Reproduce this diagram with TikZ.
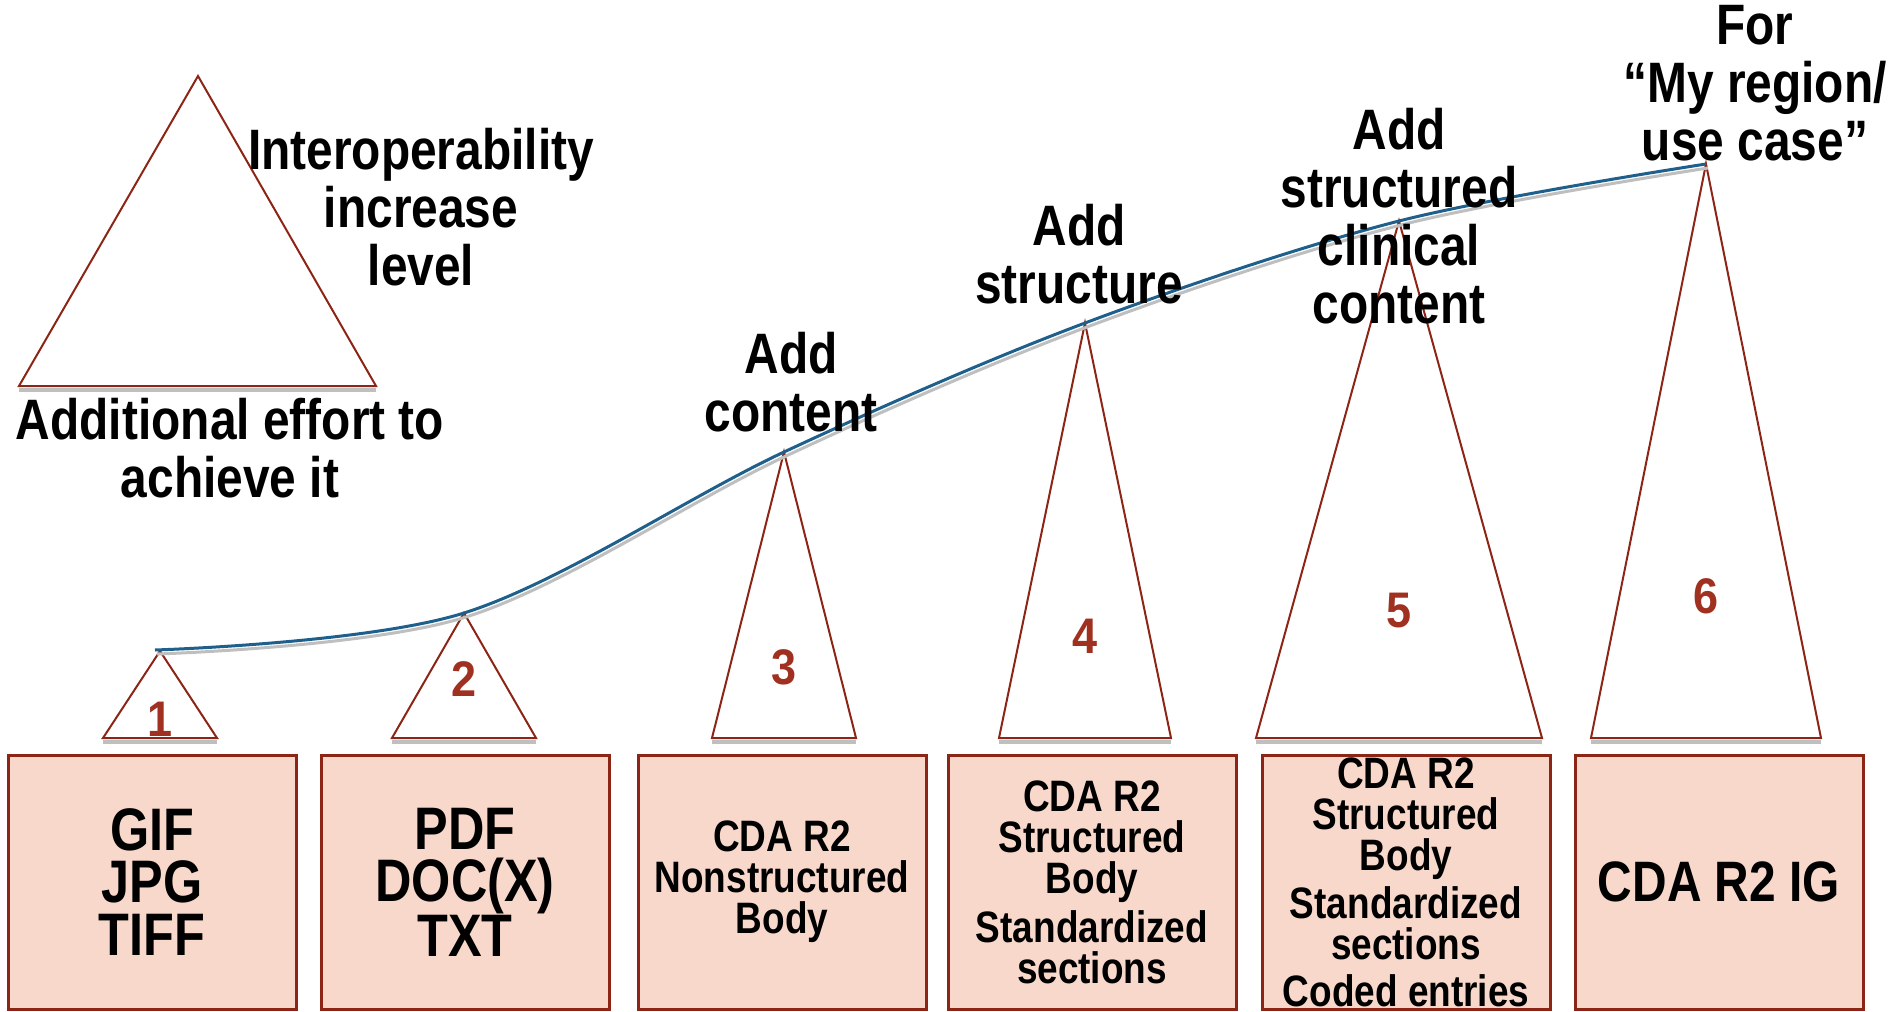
\documentclass[tikz,border=0pt]{standalone}
\usepackage{fontspec}
\setmainfont{Liberation Sans}[FakeStretch=0.84]
\newfontfamily\numfont{Liberation Sans}[FakeStretch=0.9]
\definecolor{boxfill}{HTML}{F8D8CB}
\definecolor{boxline}{HTML}{8C2516}
\definecolor{numred}{HTML}{A0301F}
\definecolor{curveblue}{HTML}{1E5F8C}
\definecolor{shadowgray}{HTML}{BFBFBF}
\begin{document}
\begin{tikzpicture}[x=1pt,y=-1pt,
  fmtbox/.style={draw=boxline, line width=3pt, fill=boxfill, minimum width=288pt, minimum height=254pt, inner sep=0pt, align=center},
  bigtxt/.style={font=\bfseries\fontsize{60}{52.5}\selectfont},
  smalltxt/.style={font=\bfseries\fontsize{44}{41}\selectfont},
  lbl/.style={font=\bfseries\fontsize{57}{58}\selectfont, align=center, inner sep=0pt},
  numlbl/.style={font=\numfont\bfseries\fontsize{50}{50}\selectfont, text=numred, inner sep=0pt},
  tri/.style={draw=boxline, line width=2pt, line join=miter},
  baseshadow/.style={draw=shadowgray, line width=4pt}
]
\useasboundingbox (0,0) rectangle (1891,1012);

% boxes
\node[fmtbox, bigtxt] (b1) at (152,882) {GIF\\JPG\\TIFF};
\node[fmtbox, bigtxt] (b2) at (465,882) {PDF\\DOC(X)\\TXT};
\node[fmtbox, smalltxt] (b3) at (782,882) {\rule{0pt}{8pt}CDA R2\\Nonstructured\\Body};
\node[fmtbox, smalltxt] (b4) at (1092,882) {CDA R2\\Structured\\Body\\[7pt]Standardized\\sections};
\node[fmtbox, smalltxt] (b5) at (1406,882) {CDA R2\\Structured\\Body\\[6pt]Standardized\\sections\\[6pt]Coded entries};
\node[fmtbox, font=\bfseries\fontsize{57}{58}\selectfont] (b6) at (1719,882) {CDA R2 IG};

% legend triangle
\coordinate (la) at (198,76);
\coordinate (ll) at (19,386);
\coordinate (lr) at (376,386);
\draw[baseshadow] ([yshift=-4pt]ll) -- ([yshift=-4pt]lr);
\draw[tri] (la) -- (ll) -- (lr) -- cycle;
\node[lbl] (interop) at (421,207) {Interoperability\\increase\\level};
\node[lbl] (effort) at (230,448) {Additional effort to\\achieve it};

% step triangles
\foreach \i/\cx/\ay/\hw in {1/160/651/57, 2/464/613/72, 3/784/452/72, 4/1085/323/86, 5/1399/221/143, 6/1706/164/115}{
  \coordinate (a\i) at (\cx,\ay);
  \coordinate (l\i) at (\cx-\hw,738);
  \coordinate (r\i) at (\cx+\hw,738);
  \draw[baseshadow] ([yshift=-4pt]l\i) -- ([yshift=-4pt]r\i);
  \draw[tri] (a\i) -- (l\i) -- (r\i) -- cycle;
}
\node[numlbl] (n1) at (160,719) {1};
\node[numlbl] (n2) at (464,679) {2};
\node[numlbl] (n3) at (784,667) {3};
\node[numlbl] (n4) at (1085,636) {4};
\node[numlbl] (n5) at (1399,611) {5};
\node[numlbl] (n6) at (1706,596) {6};

% curve
\coordinate (c0) at (155,650);
\begin{scope}[transform canvas={shift={(2pt,-4pt)}}]
\draw[shadowgray, line width=3pt] plot[smooth, tension=0.55] coordinates {(c0) (a2) (a3) (a4) (a5) (a6)};
\end{scope}
\draw[curveblue, line width=3pt] plot[smooth, tension=0.55] coordinates {(c0) (a2) (a3) (a4) (a5) (a6)};

% step labels
\node[lbl] (t3) at (791,382) {Add\\content};
\node[lbl] (t4) at (1079,254) {Add\\structure};
\node[lbl] (t5) at (1399,216) {Add\\structured\\clinical\\content};
\node[lbl] (t6) at (1755,83) {For\\“My region/\\use case”};
\end{tikzpicture}
\end{document}
